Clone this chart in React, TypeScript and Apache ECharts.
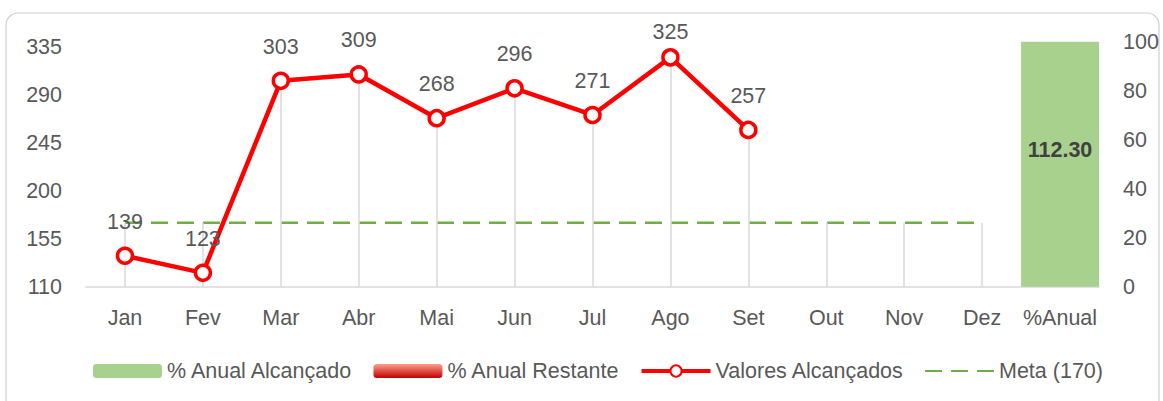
import React, { useEffect, useRef } from "react";
import * as echarts from "echarts";

const categories = ["Jan", "Fev", "Mar", "Abr", "Mai", "Jun", "Jul", "Ago", "Set", "Out", "Nov", "Dez", "%Anual"];
const valoresAlcancados: (number | null)[] = [139, 123, 303, 309, 268, 296, 271, 325, 257, null, null, null, null];
const metaValores: (number | null)[] = [170, 170, 170, 170, 170, 170, 170, 170, 170, 170, 170, 170, null];
const anualAlcancado: (number | null)[] = [null, null, null, null, null, null, null, null, null, null, null, null, 112.3];
const anualRestante: (number | null)[] = [null, null, null, null, null, null, null, null, null, null, null, null, 0];
const leftMin = 110;
const leftMax = 339.7;
const leftInterval = 45;
const rightMin = 0;
const rightMax = 100;
const rightInterval = 20;

const FONT = "Liberation Sans";
const TEXT = "#595959";
const FS = 21.5;

export default function App() {
  const ref = useRef<HTMLDivElement>(null);
  useEffect(() => {
    if (!ref.current) return;
    const chart = echarts.init(ref.current, null, { renderer: "svg" });

    const dropLines: any[] = [];
    categories.forEach((c, i) => {
      const v = valoresAlcancados[i];
      const m = metaValores[i];
      const vals = [v, m].filter((x) => x !== null) as number[];
      if (!vals.length) return;
      const top = Math.max(...vals);
      dropLines.push([{ coord: [c, leftMin] }, { coord: [c, top] }]);
    });

    chart.setOption({
      animation: false,
      textStyle: { fontFamily: FONT },
      graphic: [
        {
          type: "rect",
          shape: { x: 6, y: 13, width: 1153, height: 420, r: 12 },
          style: { fill: "none", stroke: "#d0d0d0", lineWidth: 1.2 },
          silent: true,
          z: -10,
        },
      ],
      grid: { left: 86, right: 64, top: 41.7, bottom: 114.3 },
      legend: {
        left: 88,
        top: 355,
        itemWidth: 69,
        itemHeight: 14,
        itemGap: 20,
        textStyle: { fontFamily: FONT, fontSize: FS, color: TEXT },
        data: [
          "% Anual Alcançado",
          "% Anual Restante",
          { name: "Valores Alcançados", lineStyle: { width: 4 } },
          { name: "Meta (170)", itemStyle: { opacity: 0 } },
        ],
      },
      xAxis: {
        type: "category",
        data: categories,
        boundaryGap: true,
        axisLine: { lineStyle: { color: "#d9d9d9", width: 1.5 } },
        axisTick: { show: false },
        axisLabel: { color: TEXT, fontSize: FS, margin: 20, fontFamily: FONT, interval: 0 },
        splitLine: { show: false },
      },
      yAxis: [
        {
          type: "value",
          min: leftMin,
          max: leftMax,
          interval: leftInterval,
          axisLine: { show: false },
          axisTick: { show: false },
          splitLine: { show: false },
          axisLabel: { color: TEXT, fontSize: FS, margin: 24, showMaxLabel: false, fontFamily: FONT },
        },
        {
          type: "value",
          min: rightMin,
          max: rightMax,
          interval: rightInterval,
          axisLine: { show: false },
          axisTick: { show: false },
          splitLine: { show: false },
          axisLabel: { color: TEXT, fontSize: FS, margin: 24, fontFamily: FONT },
        },
      ],
      series: [
        {
          name: "drop",
          type: "line",
          data: [],
          silent: true,
          z: 0,
          markLine: {
            silent: true,
            symbol: "none",
            label: { show: false },
            lineStyle: { color: "#d9d9d9", width: 1.5, type: "solid" },
            data: dropLines,
          },
        },
        {
          name: "% Anual Alcançado",
          type: "bar",
          yAxisIndex: 1,
          stack: "anual",
          data: anualAlcancado,
          barCategoryGap: "0%",
          clip: true,
          itemStyle: { color: "#a9d18e" },
          label: {
            show: true,
            position: "inside",
            offset: [0, -14],
            fontFamily: FONT,
            fontSize: FS,
            fontWeight: "bold",
            color: "#404040",
            formatter: (p: any) => (p.value == null ? "" : Number(p.value).toFixed(2)),
          },
          z: 2,
        },
        {
          name: "% Anual Restante",
          type: "bar",
          yAxisIndex: 1,
          stack: "anual",
          data: anualRestante,
          barCategoryGap: "0%",
          barMinHeight: 2,
          itemStyle: {
            color: new echarts.graphic.LinearGradient(0, 0, 0, 1, [
              { offset: 0, color: "#ffa08c" },
              { offset: 1, color: "#c00000" },
            ]),
          },
          z: 3,
        },
        {
          name: "Meta (170)",
          type: "line",
          data: metaValores,
          symbol: "none",
          lineStyle: { color: "#70ad47", width: 2.5, type: [17, 9] },
          itemStyle: { color: "#70ad47" },
          z: 4,
        },
        {
          name: "Valores Alcançados",
          type: "line",
          data: valoresAlcancados,
          symbol: "circle",
          symbolSize: 15,
          lineStyle: { color: "#ff0000", width: 4.5 },
          itemStyle: { color: "#ffffff", borderColor: "#ff0000", borderWidth: 3.5 },
          label: {
            show: true,
            position: "top",
            distance: 14,
            fontFamily: FONT,
            fontSize: FS,
            color: TEXT,
          },
          labelLayout: (p: any) => (p.labelRect && p.labelRect.y < 21 ? { dy: 21 - p.labelRect.y } : {}),
          z: 5,
        },
      ],
    });
    return () => chart.dispose();
  }, []);
  return <div ref={ref} style={{ position: "absolute", left: 0, top: 0, width: 1163, height: 401 }} />;
}
